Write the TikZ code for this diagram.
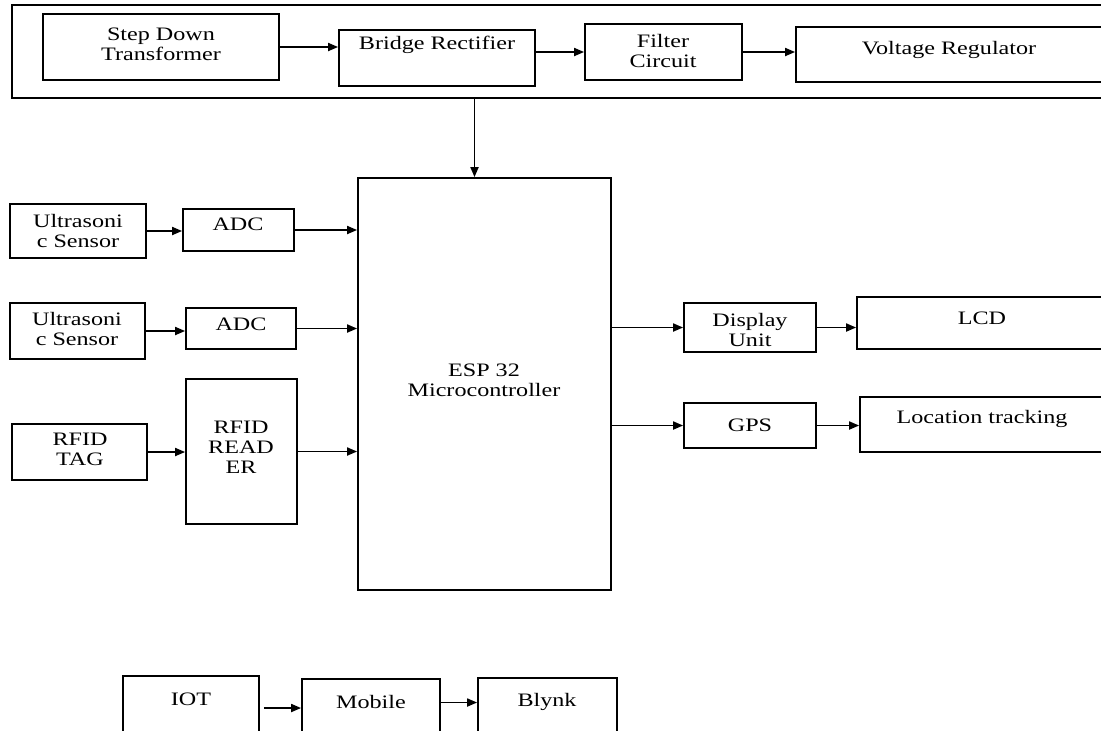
\documentclass[tikz,border=0pt]{standalone}
\usepackage{fontspec}
\setmainfont{Liberation Serif}[FakeStretch=1.27]
\usetikzlibrary{arrows.meta,fit}
\begin{document}
\begin{tikzpicture}[x=0.5pt,y=-0.5pt,
  box/.style={draw,line width=0.9pt,inner sep=0pt},
  txt/.style={align=center,font=\fontsize{9.5}{10}\selectfont,inner sep=0pt},
  arr/.style={line width=0.9pt,-{Triangle[length=5pt,width=4pt]}}]
\clip (0,0) rectangle (1101,730);
\node[box,fit={(12,5) (1120,98)}] (psu) {};
\node[box,fit={(43,14) (279,80)}] (sdt) {};
\node[box,fit={(339,30) (535,86)}] (br) {};
\node[box,fit={(585,24) (742,80)}] (fc) {};
\node[box,fit={(796,27) (1120,82)}] (vr) {};
\node[box,fit={(358,178) (611,590)}] (esp) {};
\node[box,fit={(10,204) (146,258)}] (us1) {};
\node[box,fit={(183,209) (294,251)}] (adc1) {};
\node[box,fit={(10,303) (145,359)}] (us2) {};
\node[box,fit={(186,308) (296,349)}] (adc2) {};
\node[box,fit={(12,424) (147,480)}] (tag) {};
\node[box,fit={(186,379) (297,524)}] (rdr) {};
\node[box,fit={(684,303) (816,352)}] (disp) {};
\node[box,fit={(857,297) (1120,349)}] (lcd) {};
\node[box,fit={(684,403) (816,448)}] (gps) {};
\node[box,fit={(860,397) (1120,452)}] (loc) {};
\node[box,fit={(123,676) (259,740)}] (iot) {};
\node[box,fit={(302,679) (440,740)}] (mob) {};
\node[box,fit={(478,678) (617,740)}] (blk) {};
\node[txt] (sdt-t) at (161,44) {Step Down\\Transformer};
\node[txt] (br-t) at (437,45) {Bridge Rectifier};
\node[txt] (fc-t) at (663,51) {Filter\\Circuit};
\node[txt] (vr-t) at (949,50) {Voltage Regulator};
\node[txt] (esp-t) at (484,380) {ESP 32\\Microcontroller};
\node[txt] (us1-t) at (78,231) {Ultrasoni\\c Sensor};
\node[txt] (adc1-t) at (238,224) {ADC};
\node[txt] (us2-t) at (77,329) {Ultrasoni\\c Sensor};
\node[txt] (adc2-t) at (241,324) {ADC};
\node[txt] (tag-t) at (80,449) {RFID\\TAG};
\node[txt] (rdr-t) at (241,447) {RFID\\READ\\ER};
\node[txt] (disp-t) at (750,330) {Display\\Unit};
\node[txt] (lcd-t) at (982,318) {LCD};
\node[txt] (gps-t) at (750,425) {GPS};
\node[txt] (loc-t) at (982,419) {Location tracking};
\node[txt] (iot-t) at (191,699) {IOT};
\node[txt] (mob-t) at (371,702) {Mobile};
\node[txt] (blk-t) at (547,702) {Blynk};
\draw[arr] (sdt.east) -- (sdt.east -| br.west);
\draw[arr] (fc.west -| br.east) -- (fc.west);
\draw[arr] (fc.east) -- (fc.east -| vr.west);
\draw[arr] ([xshift=-5pt]esp.north |- psu.south) -- ([xshift=-5pt]esp.north);
\draw[arr] (us1.east) -- (us1.east -| adc1.west);
\draw[arr] (adc1.east) -- (adc1.east -| esp.west);
\draw[arr] (us2.east) -- (us2.east -| adc2.west);
\draw[arr] (adc2.east) -- (adc2.east -| esp.west);
\draw[arr] (tag.east) -- (tag.east -| rdr.west);
\draw[arr] (rdr.east) -- (rdr.east -| esp.west);
\draw[arr] (disp.west -| esp.east) -- (disp.west);
\draw[arr] (disp.east) -- (disp.east -| lcd.west);
\draw[arr] (gps.west -| esp.east) -- (gps.west);
\draw[arr] (gps.east) -- (gps.east -| loc.west);
\draw[arr] ([xshift=2pt]iot.east) -- (iot.east -| mob.west);
\draw[arr] ([yshift=3.5pt]mob.east) -- ([yshift=3.5pt]mob.east -| blk.west);
\end{tikzpicture}
\end{document}
